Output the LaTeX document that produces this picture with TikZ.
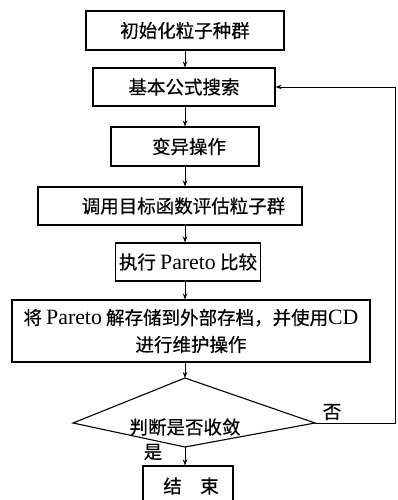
\documentclass[tikz,border=0pt]{standalone}
\usepackage{fontspec}
\setmainfont{Liberation Serif}[Scale=1.18]
\newfontfamily\cjk{Noto Sans CJK SC}[FakeBold=0.5]
\usetikzlibrary{arrows.meta}
\newcommand\latn[1]{{\rmfamily #1}}
\begin{document}
\begin{tikzpicture}[x=1pt,y=-1pt,
  every node/.style={font=\cjk\fontsize{18.5}{27}\selectfont, inner sep=0pt},
  stepbox/.style={draw, line width=1.1pt, rectangle, align=center},
  conn/.style={line width=0.9pt, -{Stealth[length=6pt,width=4.5pt]}},
  plain/.style={line width=0.9pt}]
\useasboundingbox (0,0) rectangle (398,500);
\clip (0,0) rectangle (398,500);
\node[stepbox, minimum width=198pt, minimum height=39pt] (b1) at (185,30.5) {初始化粒子种群};
\node[stepbox, minimum width=182pt, minimum height=38pt] (b2) at (184,87) {基本公式搜索};
\node[stepbox, minimum width=148pt, minimum height=39pt] (b3) at (185,146.5) {\hspace*{8pt}变异操作};
\node[stepbox, minimum width=264pt, minimum height=38pt] (b4) at (170,206) {\hspace*{27pt}调用目标函数评估粒子群};
\node[stepbox, minimum width=145pt, minimum height=38pt] (b5) at (188,262) {执行 \latn{Pareto} 比较};
\node[stepbox, minimum width=358pt, minimum height=62pt] (b6) at (191,331) {将 \latn{Pareto} 解存储到外部存档，并使用\latn{CD}\\进行维护操作};
\coordinate (dt) at (185,378);
\coordinate (dl) at (73,423);
\coordinate (dr) at (315,423);
\coordinate (db) at (185,447);
\draw[line width=1.1pt] (dt) -- (dr) -- (db) -- (dl) -- cycle;
\node (dtext) at (185,427) {判断是否收敛};
\node[stepbox, minimum width=90pt, minimum height=40pt] (b7) at (188,486) {\hspace*{6pt}结　束};
\node (no) at (332,412) {否};
\node (yes) at (153,452) {是};
\coordinate (rc) at (395,423);
\draw[conn] (b1.south) -- (b1.south |- b2.north);
\draw[conn] (b2.south -| dt) -- (dt |- b3.north);
\draw[conn] (b3.south -| dt) -- (dt |- b4.north);
\draw[conn] (b4.south -| dt) -- (dt |- b5.north);
\draw[conn] (b5.south -| dt) -- (dt |- b6.north);
\draw[conn] (b6.south -| dt) -- (dt);
\draw[conn] (db) -- (db |- b7.north);
\draw[conn] (dr) -- (rc) |- (b2.east);
\end{tikzpicture}
\end{document}
